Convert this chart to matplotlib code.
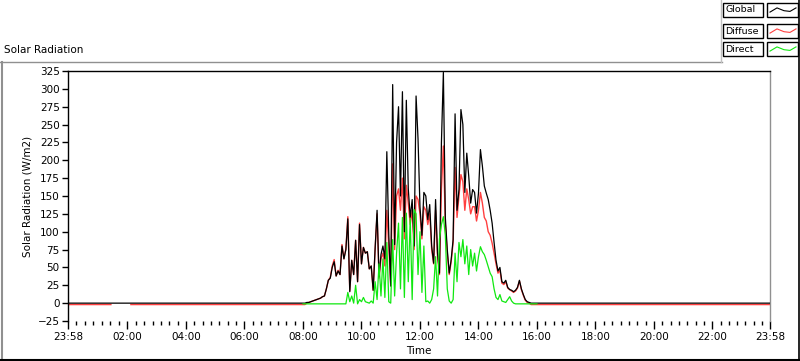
import numpy as np
import matplotlib
matplotlib.use("Agg")
import matplotlib.pyplot as plt
from matplotlib.lines import Line2D
from matplotlib.patches import Rectangle

# minutes after midnight, 4-minute samples from 08:00 to 16:00
day_t = 480 + 4 * np.arange(121)

global_day = [0, 0, 1, 1, 2, 3, 4, 5, 6, 7, 9, 10,
              20, 32, 35, 50, 58, 38, 45, 40, 80, 62, 75, 118,
              16, 60, 40, 88, 30, 110, 55, 78, 70, 72, 48, 52,
              18, 77, 130, 37, 68, 80, 62, 212, 96, 24, 306, 82,
              225, 275, 150, 296, 100, 284, 160, 120, 145, 80, 290, 230,
              135, 95, 155, 150, 117, 138, 80, 56, 145, 70, 42, 225,
              323, 120, 75, 42, 61, 89, 265, 130, 159, 271, 250, 155,
              210, 178, 140, 159, 155, 126, 154, 215, 192, 164, 154, 145,
              130, 112, 85, 60, 45, 50, 30, 28, 32, 22, 19, 18,
              16, 18, 22, 32, 20, 12, 5, 2, 1, 0, 0, 0, 0]

diffuse_day = [-2, -2, 0, 1, 2, 3, 4, 5, 6, 7, 9, 10,
               20, 32, 36, 52, 61, 38, 46, 40, 82, 62, 76, 121,
               17, 60, 40, 88, 30, 112, 55, 78, 70, 72, 48, 52,
               18, 75, 125, 35, 62, 70, 52, 130, 80, 24, 195, 75,
               150, 160, 130, 175, 90, 165, 140, 110, 130, 75, 150, 145,
               125, 90, 135, 130, 110, 125, 75, 55, 130, 65, 40, 160,
               220, 110, 70, 40, 58, 85, 190, 120, 150, 180, 170, 130,
               160, 145, 125, 135, 135, 115, 130, 155, 140, 120, 115, 100,
               95, 84, 70, 55, 42, 46, 28, 26, 30, 21, 19, 17,
               15, 17, 21, 31, 19, 11, 4, 1, 0, -2, -2, -2, -2]

direct_day = [-1, -1, -1, -1, -1, -1, -1, -1, -1, -1, -1, -1,
              -1, -1, -1, -1, -1, -1, -1, -1, -1, -1, -1, 15,
              2, 10, 0, 25, -1, 5, 2, 8, 2, 1, 0, 3,
              0, 30, 5, 55, 10, 62, 8, 85, 2, 0, 89, 10,
              70, 112, 20, 120, 8, 126, 30, 119, 5, 131, 125, 40,
              100, 15, 80, 2, 3, 0, 5, 20, 65, 10, 90, 110,
              121, 95, 20, 3, 0, 5, 70, 30, 85, 65, 89, 55,
              80, 40, 75, 52, 70, 45, 65, 79, 72, 68, 60, 51,
              42, 37, 20, 8, 5, 12, 3, 2, 1, 5, 9, 3,
              0, -1, -1, -1, -1, -1, -1, -1, -1, -1, -1, -1, -1]

# night parts (diffuse sensor reads slightly negative, with a dropout)
night_start, night_end = -2, 1438
diffuse_night_t = [-2, 86, 87, 127]
diffuse_night_v = [-2, -2, np.nan, -2]

tick_pos = [-2, 120, 240, 360, 480, 600, 720, 840, 960, 1080, 1200, 1320, 1438]
tick_lab = ["23:58", "02:00", "04:00", "06:00", "08:00", "10:00", "12:00",
            "14:00", "16:00", "18:00", "20:00", "22:00", "23:58"]
series = ["Global", "Diffuse", "Direct"]
colors = ["black", "#ff4040", "#10e810"]

plt.rcParams["font.family"] = "DejaVu Sans"
fig = plt.figure(figsize=(8, 3.61), dpi=100)
ax = fig.add_axes([68 / 800, 1 - 321 / 361, 702 / 800, 250 / 361])

g_t = np.concatenate([[night_start], day_t, [night_end]])
g_v = np.concatenate([[0], global_day, [0]])
d_t = np.concatenate([diffuse_night_t, day_t, [night_end]])
d_v = np.concatenate([diffuse_night_v, diffuse_day, [-2]])

ax.plot(d_t, d_v, color=colors[1], lw=1.0, zorder=2)
ax.plot(g_t, g_v, color=colors[0], lw=0.9, zorder=3)
ax.plot(day_t, direct_day, color=colors[2], lw=0.9, zorder=4)

ax.set_xlim(-2, 1438)
ax.set_ylim(-25, 325)
ax.set_yticks(np.arange(-25, 326, 25))
ax.set_xticks(tick_pos)
ax.set_xticklabels(tick_lab)
minor = []
for a, b in zip(tick_pos[:-1], tick_pos[1:]):
    minor.extend(np.linspace(a, b, 8)[1:-1])
ax.set_xticks(minor, minor=True)
ax.tick_params(axis="both", labelsize=7.5, direction="out", color="black", pad=2)
ax.tick_params(axis="x", which="major", length=6, width=1)
ax.tick_params(axis="x", which="minor", length=3, width=1)
ax.tick_params(axis="y", length=4, width=1)

ax.spines["left"].set_color("black")
ax.spines["top"].set_color("black")
ax.spines["right"].set_color("#909090")
ax.spines["bottom"].set_visible(False)
for s in ax.spines.values():
    s.set_linewidth(1)

ax.set_ylabel("Solar Radiation (W/m2)", fontsize=7.5, labelpad=4)
ax.set_xlabel("Time", fontsize=7.5, labelpad=3)

# panel frame
fig.add_artist(Line2D([0, 722 / 800], [1 - 62 / 361] * 2, color="#909090", lw=1))
fig.add_artist(Line2D([1.5 / 800] * 2, [1 - 62 / 361, 0], color="#909090", lw=1.5))
fig.add_artist(Line2D([0, 1], [1.5 / 361] * 2, color="black", lw=1.5))
fig.add_artist(Line2D([798.5 / 800] * 2, [0, 1], color="black", lw=1.2))
fig.add_artist(Line2D([721 / 800] * 2, [1 - 62 / 361, 1], color="#c0c0c0", lw=1))
fig.text(4 / 800, 1 - 50 / 361, "Solar Radiation", fontsize=7.5, va="center", ha="left")

# legend
row_y = [3, 24, 42]
for i, name in enumerate(series):
    y0 = 1 - (row_y[i] + 14) / 361
    h = 14 / 361
    fig.add_artist(Rectangle((723 / 800, y0), 40 / 800, h, transform=fig.transFigure,
                             fill=False, edgecolor="black", lw=1))
    fig.add_artist(Rectangle((767 / 800, y0), 31 / 800, h, transform=fig.transFigure,
                             fill=False, edgecolor="black", lw=1))
    fig.text(725 / 800, y0 + h / 2, name, fontsize=6.8, va="center", ha="left")
    zx = np.array([770, 777, 784, 790, 796]) / 800
    zy = y0 + h * np.array([0.35, 0.65, 0.45, 0.4, 0.65])
    fig.add_artist(Line2D(zx, zy, color=colors[i], lw=0.8))

fig.savefig("out.png", dpi=100, facecolor="white")
